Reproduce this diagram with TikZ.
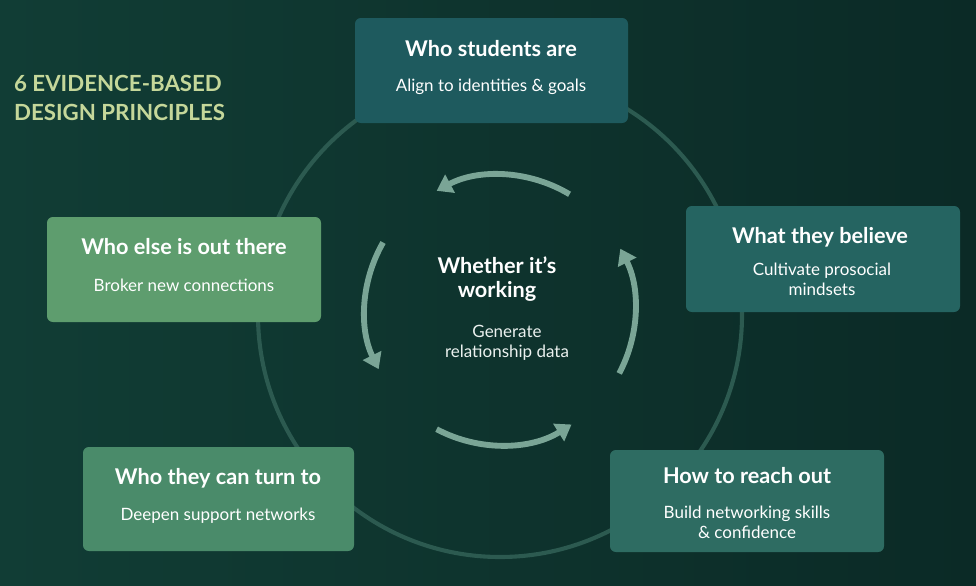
\documentclass[tikz,border=0pt]{standalone}
\usepackage{fontspec}
\setmainfont{Lato}
\usetikzlibrary{arrows.meta}
\definecolor{bgL}{HTML}{113D35}
\definecolor{bgR}{HTML}{0B2A26}
\definecolor{ring}{HTML}{2C5A50}
\definecolor{arr}{HTML}{7AA596}
\definecolor{ttl}{HTML}{C5D79A}
\definecolor{cA}{HTML}{1E5A5E}
\definecolor{cB}{HTML}{256461}
\definecolor{cC}{HTML}{2E6C62}
\definecolor{cD}{HTML}{4A8B6A}
\definecolor{cE}{HTML}{5E9D6E}
\begin{document}
\begin{tikzpicture}[x=0.03cm,y=-0.03cm,
  box/.style={rounded corners=5pt,text=white,align=center,inner sep=0pt},
  hd/.style={font=\fontsize{18.5}{21}\selectfont\bfseries},
  sb/.style={font=\fontsize{14.5}{17}\selectfont},
  carr/.style={draw=arr,line width=5pt,-{Triangle[length=13pt,width=17pt]}}]
\shade[left color=bgL,right color=bgR] (0,0) rectangle (976,586);
\useasboundingbox (0,0) rectangle (976,586);
\draw[ring,line width=3.5pt] (500,315) circle[radius=242];
% title
\node[anchor=west,text=ttl,font=\fontsize{19}{24}\selectfont\bfseries,align=left] (title) at (10,98) {6 EVIDENCE-BASED\\DESIGN PRINCIPLES};
% boxes
\fill[cA,rounded corners=5pt] (355,18) rectangle (628,123);
\node[box,hd] (b1h) at (491,49) {Who students are};
\node[box,sb] (b1s) at (491,87) {Align to identities \& goals};
\fill[cB,rounded corners=5pt] (686,206) rectangle (960,312);
\node[box,hd] (b2h) at (820,237) {What they believe};
\node[box,sb] (b2s) at (822,279) {Cultivate prosocial\\mindsets};
\fill[cC,rounded corners=5pt] (610,450) rectangle (884,552);
\node[box,hd] (b3h) at (747,476) {How to reach out};
\node[box,sb] (b3s) at (747,522) {Build networking skills\\\& confidence};
\fill[cD,rounded corners=5pt] (83,447) rectangle (354,551);
\node[box,hd] (b4h) at (218,478) {Who they can turn to};
\node[box,sb] (b4s) at (218,516) {Deepen support networks};
\fill[cE,rounded corners=5pt] (47,217) rectangle (321,322);
\node[box,hd] (b5h) at (184,247) {Who else is out there};
\node[box,sb] (b5s) at (184,285) {Broker new connections};
% center
\node[box,hd] (ch) at (497,279) {Whether it's\\working};
\node[box,sb,text=white!85!arr] (cs) at (507,343) {Generate\\relationship data};
% cycle arrows
\coordinate (c) at (500,310);
\draw[carr] ([shift={(c)}]-59:135) arc[start angle=-59,end angle=-118,radius=135];
\draw[carr] ([shift={(c)}]28:135) arc[start angle=28,end angle=-27,radius=135];
\draw[carr] ([shift={(c)}]118:135) arc[start angle=118,end angle=58,radius=135];
\draw[carr] ([shift={(c)}]-150:135) arc[start angle=-150,end angle=-206,radius=135];
\end{tikzpicture}
\end{document}
